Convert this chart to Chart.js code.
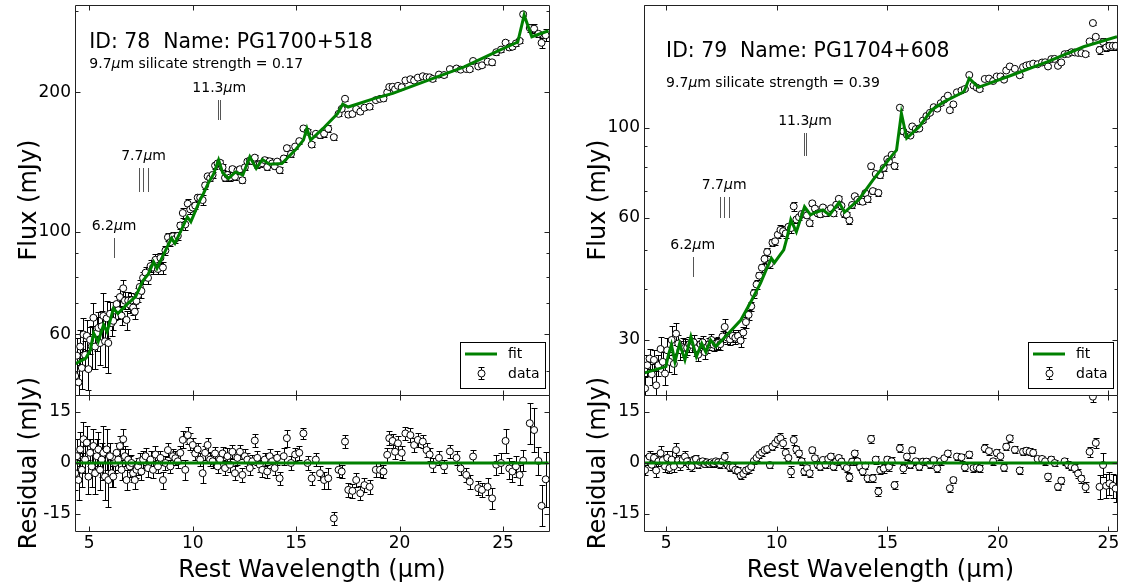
<!DOCTYPE html>
<html>
<head>
<meta charset="utf-8">
<title>PG1700+518 / PG1704+608</title>
<script src="https://cdn.jsdelivr.net/npm/chart.js@4.4.1/dist/chart.umd.min.js"></script>
<style>
    html, body { margin: 0; padding: 0; background: #fff; }
    #lienzo { position: relative; width: 1126px; height: 583px; }
    #lienzo canvas { position: absolute; left: 0; top: 0; }
</style>
</head>
<body>
<div id="lienzo">
    <canvas id="flux78" width="1126" height="583"></canvas>
    <canvas id="res78" width="1126" height="583"></canvas>
    <canvas id="flux79" width="1126" height="583"></canvas>
    <canvas id="res79" width="1126" height="583"></canvas>
</div>
<script>
// Ticks de los ejes.
const X_TICKS = [5, 10, 15, 20, 25];
const RES_TICKS = [-15, 0, 15];
const Y_LABELS_78 = [60, 100, 200];
const Y_MINOR_78 = [50, 70, 80, 90, 300];
const Y_LABELS_79 = [30, 60, 100];
const Y_MINOR_79 = [40, 50, 70, 80, 90, 200];

// Límites de los ejes.
const X_RANGE_78 = [4.31, 27.22];
const Y_RANGE_78 = [44.4, 309];
const X_RANGE_79 = [4.0, 25.39];
const Y_RANGE_79 = [21.96, 200.5];
const RES_RANGE = [-20, 20];

// ID 78: longitud de onda (um), flujo (mJy), error y residuo.
const lam78 = [4.32,4.40,4.48,4.56,4.64,4.72,4.80,4.88,4.96,5.04,5.12,5.20,5.28,5.36,5.44,5.52,5.60,5.68,5.76,5.84,5.92,6.00,6.08,6.16,6.24,6.32,6.40,6.48,6.56,6.64,6.72,6.80,6.88,6.96,7.04,7.12,7.20,7.28,7.36,7.44,7.52,7.60,
    7.72,7.84,7.96,8.08,8.20,8.32,8.44,8.56,8.68,8.80,8.92,9.04,9.16,9.28,9.40,9.52,9.64,9.76,9.88,10.00,10.12,10.24,10.36,10.48,10.60,10.72,10.84,10.96,11.08,11.20,11.32,11.44,11.56,11.68,11.80,11.92,12.04,12.16,12.28,12.40,12.52,12.64,12.76,12.88,13.00,13.12,13.24,13.36,13.48,13.60,13.72,13.84,13.96,14.08,
    14.20,14.40,14.55,14.75,14.95,15.15,15.35,15.55,15.75,15.95,16.15,16.35,16.55,16.82,17.05,17.20,17.36,17.52,17.72,17.90,18.10,18.30,18.55,18.85,19.05,19.22,19.40,19.50,19.66,19.78,19.92,20.10,20.28,20.52,20.70,20.88,21.12,21.30,21.45,21.60,21.90,22.15,22.43,22.75,22.95,23.22,23.39,23.55,23.80,23.98,24.25,24.47,24.67,24.90,25.12,25.30,25.45,25.62,25.80,25.97,26.29,26.50,26.71,26.86,27.06];
const flux78 = [48.8,54.0,47.3,56.5,50.8,60.0,54.2,59.6,50.5,58.4,56.5,65.2,56.5,60.4,62.0,57.5,62.5,65.8,58.0,65.0,57.5,66.5,63.5,64.2,67.6,69.8,67.7,72.3,65.9,75.5,71.0,64.5,71.0,69.6,71.1,68.6,67.2,70.9,73.0,76.0,74.5,79.5,
    81.6,79.5,84.3,83.7,87.0,83.1,87.8,83.7,91.1,97.3,95.0,97.8,96.5,98.0,103.2,109.8,103.7,115.0,111.8,112.8,113.9,118.5,118.5,117.1,126.0,131.8,130.5,132.7,139.0,140.5,141.0,137.8,130.8,132.7,131.0,136.6,131.5,135.6,136.5,129.2,137.8,141.8,142.5,142.1,144.6,139.4,140.0,140.6,142.8,138.0,142.0,140.5,138.6,141.8,
    135.9,144.0,151.6,147.3,152.8,157.0,167.2,164.5,154.3,162.8,161.8,162.9,166.9,160.1,179.8,184.3,193.8,179.1,179.7,184.2,181.8,185.4,186.3,192.5,193.7,194.1,200.0,205.5,205.7,203.2,206.7,205.3,212.3,213.6,212.2,215.3,216.8,215.8,215.6,213.9,218.6,218.1,224.6,225.3,224.0,224.7,224.4,233.9,227.6,228.9,233.1,232.3,244.3,247.5,256.2,250.2,251.1,255.2,258.5,295.0,275.6,274.7,267.7,256.0,265.8];
const err78 = [5,5,6,5,5,5,4,5,5,4,6,5,6,5,5,6,5,8,7,6,8,4,4,3,3,3,3,3,3,3,3,3,3,3,2.5,2.5,2.5,2.5,2.5,2.5,2.5,2.5,
    2.5,2.5,2.5,2.5,2.5,2,2,2.5,2,2,2,2,2,2,2,2.5,3,2.5,2.5,2,2,2,2,3,2,2,2,2,2,2,2,2,2,2.5,2,2,2,2,2,2,2,2,2,2,2,2,2,2,2,2,2,2,2,2,
    2,2.5,2.5,2,2,2,1.5,2,2,2,2,2.5,3,2,2,2,2,2,2,2,2,2,2,2,2,2,2,2,2,2,2,2,2,2,2,2,2,2,2,2,2,2,2,2,2,2,2,2,2,2,2.5,3,3,3,3.5,3,3,3,3,3,6,6.5,4,6,8];
const res78 = [-3,2,-5,4,-2,7,1,6,-4,3,-1,5,-3,2,4,-2,1,3,-4,4,-5,2,-3,-4,0,3,1,5,-2,7,2,-5,1,-1,0,-3,-5,-2,-1,0.5,-2.5,1,
    2,-1.5,1,-2,2.5,-1,1.5,-5,0,3.8,-1,2,1.4,0.5,3,6.8,-2,8.2,6.3,5.3,2.8,4,1,-3,3,5.3,1,0.5,2.8,-1,1,2.8,-1.5,2,-0.5,3.3,-3,1.5,3.3,-3.5,2,1,-1.5,0.5,6.6,1.5,-0.5,-2,1,-2.5,2,0.5,-1.5,1.5,
    -4.5,2,7.3,0,2.5,3,8.7,0,-4.5,1,-3,-5,-4.5,-16.3,-2,-2.5,6.3,-7.9,-8.2,-5,-8.9,-6.5,-7,-2,-2,-2.5,2.4,7.3,6.5,3.3,5.8,3,8.7,8.2,5.3,6.8,6.3,3.8,2.5,-0.6,1.5,-1,3.4,1.5,-1.6,-3.5,-5.5,1.9,-7.4,-7.9,-7,-10.4,-0.5,0,6.5,-1.6,-2.5,-1,-3.5,0.7,11.7,9.7,0.6,-12.6,-4.8];

// ID 78: curva del ajuste.
const fitLam78 = [4.31,4.83,5.05,5.21,5.43,5.69,5.86,6.17,6.38,6.8,7.24,7.6,7.85,8.11,8.27,8.6,8.97,9.14,9.45,9.74,9.91,10.35,10.52,10.78,11.0,11.25,11.45,11.73,12.07,12.42,12.76,13.07,13.37,13.71,14.31,15.0,15.35,15.52,15.7,16.3,17.0,17.25,17.51,18.8,19.67,21.39,23.12,24.84,25.71,26.02,26.39,27.2];
const fitFlux78 = [51.8,53.3,55.5,60.4,57.9,62.9,60.8,68.3,66.6,69.5,72.4,78.5,81.0,86.1,83.4,89.5,96.8,94.4,101,107.7,105.1,117.1,121.0,128.2,133,142.9,134,130.4,134.7,132.6,145.2,137.1,143.3,140.0,140.5,151,157.8,167.2,157.8,167.2,180,188.8,186.0,194.2,199.1,212.7,227.1,246.9,257,293.8,263.9,271.8];

// ID 79: longitud de onda (um), flujo (mJy), error y residuo.
const lam79 = [4.05,4.15,4.25,4.35,4.45,4.55,4.65,4.75,4.85,4.95,5.05,5.15,5.25,5.35,5.45,5.55,5.65,5.75,5.85,5.95,6.05,6.15,6.25,6.35,6.45,6.55,6.65,6.75,6.85,6.95,7.05,7.15,7.25,7.35,7.45,7.55,
    7.65,7.77,7.89,8.01,8.13,8.25,8.37,8.49,8.61,8.73,8.85,8.97,9.09,9.21,9.33,9.45,9.57,9.69,9.81,9.93,10.05,10.17,10.29,10.41,10.53,10.65,10.77,10.89,11.01,11.13,11.25,11.37,11.49,11.61,11.73,11.85,11.97,12.09,12.21,12.33,12.45,12.57,12.69,12.81,12.93,13.05,13.17,13.29,13.41,13.53,13.65,13.77,13.89,14.01,14.11,
    14.27,14.35,14.48,14.60,14.68,14.84,15.00,15.08,15.20,15.33,15.57,15.73,15.89,16.05,16.13,16.29,16.45,16.61,16.77,16.93,17.10,17.26,17.42,17.58,17.74,17.83,17.99,18.15,18.36,18.51,18.71,18.90,19.05,19.18,19.41,19.60,19.79,19.95,20.12,20.28,20.38,20.54,20.77,20.99,21.14,21.29,21.44,21.60,21.80,22.00,22.14,22.27,22.42,22.57,22.72,22.87,23.02,23.18,23.33,23.48,23.63,23.78,23.97,24.15,24.30,24.43,24.60,24.76,24.90,25.05,25.20,25.33];
const flux79 = [22.8,26.0,27.0,24.7,26.8,23.2,26.0,28.5,26.5,24.8,28.3,26.5,30.0,26.2,31.1,29.4,28.3,28.8,28.7,28.7,29.3,29.2,29.6,28.6,27.6,29.3,29.6,28.0,28.8,29.3,30.0,29.2,29.4,29.5,29.3,30.6,
    32.3,30.4,30.1,30.7,30.4,30.7,29.9,31.3,33.2,34.6,36.3,39.1,41.1,43.2,45.2,47.5,49.4,46.2,52.1,52.5,54.5,56.0,55.6,54.9,57.0,56.6,64.0,59.4,60.2,61.3,61.3,60.8,58.2,65.1,63.2,61.5,61.2,63.6,61.6,62.5,63.3,61.5,64.6,66.8,64.2,61.4,61.0,59.1,64.5,67.8,66.4,65.9,65.7,69.0,66.7,
    80.4,69.8,76.9,69.1,76.4,79.6,83.6,82.5,85.7,80.5,112.0,97.9,96.1,95.6,100.7,99.2,99.5,104.1,106.8,108.8,112.3,111.4,114.9,117.3,119.9,110.4,114.1,122.2,123.5,124.5,134.8,127.0,125.5,124.4,131.8,132.1,130.3,133.7,133.7,131.3,138.3,141.5,139.6,134.6,141.0,142.3,142.9,143.8,143.3,144.7,144.9,141.5,147.5,147.7,142.0,144.8,151.7,152.0,153.4,153.2,152.8,152.6,151.7,163.1,181.0,167.4,155.3,162.5,157.6,159.0,159.1,159.0];
const err79 = [1.5,1.5,1.5,1.5,1.5,2,1.5,2,1.5,1.5,2,1.5,2.5,1.5,2,1.5,1.5,1.5,1.5,1.2,1.2,1.2,1.2,1.2,1,1,1,1,1,1,1,1,1,1,1,1,
    1.5,1,1,1,1,1,1,1,1,1,1,1,1,1,1,1,1,1,1,1,1,1.5,1.5,1.5,1,1.5,1.5,1,1,1,1,1,1,1,1,1,1,1,1,1,1,1,1,1,1,1,1,1.2,1,1,1,1,1,1,1,
    1.2,1.2,1.2,1.2,1.2,1.2,1.2,1.2,1.2,1.2,1.2,1.2,1,1,1,1,1,1,1,1,1,1,1,1,1,1,1,1,1,1,1,1,1,1,1.2,1,1,1,1,1,1,1,1,1,1,1,1,1,1,1,1,1.2,1,1,1,1,1,1,1,1.2,1.2,1.2,1.5,1.5,1.5,1.5,3.5,3.5,3.5,3.5,3.5,4];
const res79 = [-2.1,1.0,1.9,-0.5,1.5,-2.2,0.5,2.9,0.8,-1.0,1.5,-1.5,1.0,-1.0,3.8,0.8,-0.5,1.0,1.9,0.5,-0.5,-1.1,0.8,1.2,-0.5,0.3,0.5,-0.3,0.2,-0.2,0.2,-0.1,0.5,0.2,-0.4,0.5,
    1.8,-0.5,-1.3,-1.2,-2.0,-2.3,-3.7,-3.2,-2.2,-1.8,-1.1,0.6,1.5,2.4,3.1,3.8,4.1,-0.6,4.8,5.8,6.8,7.3,5.8,3.0,1.5,-2.5,6.8,4.0,2.8,0.5,-2.5,-1.5,-3.0,3.8,1.4,-0.5,-1.1,0.9,-0.5,1.2,1.9,-1.1,0.4,1.5,0.4,-0.8,-1.5,-4.2,0.4,2.8,0.5,-1.1,-2.5,-0.8,-4.5,
    7.1,-4.5,1.0,-8.4,-2.1,-1.6,1.0,-1.1,0.5,-6.5,4.3,-1.6,1.9,-0.5,3.8,0.5,-1.1,0.4,0.4,-0.4,0.9,-1.6,0.5,1.4,2.8,-7.4,-5.0,1.9,1.7,-1.3,2.5,-1.5,-1.3,-1.6,4.3,3.5,0.5,3.0,2.0,-1.4,4.8,7.3,3.9,-2.2,3.3,3.6,3.3,3.0,1.2,1.2,0.5,-4.0,1.0,0,-7.0,-5.2,0.5,-0.5,-1.1,-1.5,-3.1,-4.6,-7.1,3.3,19.5,5.9,-7.0,-0.6,-6.7,-6.0,-6.7,-7.5];

// ID 79: curva del ajuste.
const fitLam79 = [4.03,4.99,5.10,5.24,5.40,5.61,5.85,6.12,6.37,6.61,6.80,7.01,7.25,7.74,8.38,8.87,9.27,9.59,9.76,9.90,10.32,10.48,10.64,10.89,11.26,11.53,11.77,12.09,12.39,12.82,13.07,13.71,14.35,15.24,15.42,15.64,15.88,16.45,17.01,17.58,18.47,18.71,19.12,20.65,22.26,23.88,25.39];
const fitFlux79 = [24.9,25.8,27.5,29.2,26.5,29.4,26.8,30.6,27.3,29.4,28.0,30.0,28.9,30.8,33.6,37.6,41.4,45.5,47.7,46.5,50.0,53.9,59.3,55.4,63.9,61.0,61.9,62.7,61.0,65.4,61.9,66.5,74.3,85.7,88.0,108.5,94.2,100.6,110.6,115.9,122.6,132.3,125.7,134.8,145.4,158.2,167.5];

// Marcas de las bandas PAH: longitudes de onda, extremos (mJy) y etiqueta.
const featWaves = [[6.2], [7.42, 7.6, 7.85], [11.23, 11.33]];
const featLabels = ['6.2μm', '7.7μm', '11.3μm'];
const featLo78 = [87.8, 121.8, 174.3];
const featHi78 = [96.9, 137.3, 192.5];
const featLo79 = [42.9, 59.9, 85.2];
const featHi79 = [48.1, 67.6, 97.0];

// Estilos generales.
const FONT = '"DejaVu Sans"';
const FIT_COLOR = '#008000';
const FRAME_COLOR = '#222';

Chart.defaults.font.family = FONT;
Chart.defaults.color = '#000';

const toPoints = (xs, ys) => xs.map((x, i) => ({ x: x, y: ys[i] }));

/*
*   Dibuja un texto donde la letra μ va en cursiva (como el mathtext de matplotlib).
*/
const drawRich = (ctx, text, x, y, size, align) => {
    const segs = [];
    text.split('μ').forEach((part, i) => {
        if (i > 0) segs.push({ t: 'μ', f: `italic ${size}px ${FONT}` });
        if (part) segs.push({ t: part, f: `${size}px ${FONT}` });
    });
    let width = 0;
    segs.forEach((s) => { ctx.font = s.f; s.w = ctx.measureText(s.t).width; width += s.w; });
    let cx = align === 'center' ? x - width / 2 : x;
    ctx.textAlign = 'left';
    segs.forEach((s) => { ctx.font = s.f; ctx.fillText(s.t, cx, y); cx += s.w; });
};

/*
*   Plugin para las barras de error (debajo de los marcadores).
*/
const errorBars = {
    id: 'errorBars',
    beforeDatasetsDraw(chart) {
        const { ctx, chartArea: a, scales: { x, y } } = chart;
        ctx.save();
        ctx.beginPath();
        ctx.rect(a.left, a.top, a.width, a.height);
        ctx.clip();
        ctx.strokeStyle = '#000';
        ctx.lineWidth = 1;
        chart.data.datasets.forEach((ds) => {
            if (!ds.errors) return;
            ctx.beginPath();
            ds.data.forEach((p, i) => {
                const px = Math.round(x.getPixelForValue(p.x)) + 0.5;
                const top = Math.round(y.getPixelForValue(p.y + ds.errors[i])) + 0.5;
                const bottom = Math.round(y.getPixelForValue(p.y - ds.errors[i])) + 0.5;
                ctx.moveTo(px, top); ctx.lineTo(px, bottom);
                ctx.moveTo(px - 3, top); ctx.lineTo(px + 3, top);
                ctx.moveTo(px - 3, bottom); ctx.lineTo(px + 3, bottom);
            });
            ctx.stroke();
        });
        ctx.restore();
    }
};

/*
*   Plugin para el marco y los ticks hacia adentro en los cuatro lados.
*/
const frameTicks = {
    id: 'frameTicks',
    afterDatasetsDraw(chart, args, opts) {
        const { ctx, chartArea: a, scales: { x, y } } = chart;
        const L = Math.round(a.left) + 0.5, R = Math.round(a.right) + 0.5;
        const T = Math.round(a.top) + 0.5, B = Math.round(a.bottom) + 0.5;
        ctx.save();
        ctx.strokeStyle = FRAME_COLOR;
        ctx.lineWidth = 1;
        ctx.beginPath();
        opts.xMajor.forEach((v) => {
            const px = Math.round(x.getPixelForValue(v)) + 0.5;
            ctx.moveTo(px, B); ctx.lineTo(px, B - opts.major);
            ctx.moveTo(px, T); ctx.lineTo(px, T + opts.major);
        });
        const yTick = (v, len) => {
            const py = Math.round(y.getPixelForValue(v)) + 0.5;
            ctx.moveTo(L, py); ctx.lineTo(L + len, py);
            ctx.moveTo(R, py); ctx.lineTo(R - len, py);
        };
        opts.yMajor.forEach((v) => yTick(v, opts.major));
        (opts.yMinor || []).forEach((v) => yTick(v, opts.minor));
        ctx.rect(L, T, R - L, B - T);
        ctx.stroke();
        ctx.restore();
    }
};

/*
*   Plugin para los textos, las marcas PAH y la leyenda del panel de flujo.
*/
const notes = {
    id: 'notes',
    afterDraw(chart, args, opts) {
        if (!opts.texts) return;
        const { ctx, chartArea: a, scales: { x, y } } = chart;
        ctx.save();
        ctx.fillStyle = '#000';
        ctx.textBaseline = 'alphabetic';
        opts.texts.forEach((t) => drawRich(ctx, t.text, x.getPixelForValue(t.x), y.getPixelForValue(t.y), t.size, 'left'));
        // Marcas de las bandas.
        ctx.strokeStyle = '#555';
        ctx.lineWidth = 1;
        featWaves.forEach((waves, i) => {
            const top = Math.round(y.getPixelForValue(opts.featHi[i]));
            const bottom = Math.round(y.getPixelForValue(opts.featLo[i]));
            ctx.beginPath();
            waves.forEach((w) => {
                const px = Math.round(x.getPixelForValue(w)) + 0.5;
                ctx.moveTo(px, top); ctx.lineTo(px, bottom);
            });
            ctx.stroke();
            const mid = waves.reduce((s, w) => s + w, 0) / waves.length;
            drawRich(ctx, featLabels[i], x.getPixelForValue(mid), top - 8, 14, 'center');
        });
        // Leyenda en la esquina inferior derecha.
        const w = 85, h = 46;
        const x0 = Math.round(a.right) - 4 - w, y0 = Math.round(a.bottom) - 7 - h;
        ctx.fillStyle = '#fff';
        ctx.fillRect(x0, y0, w, h);
        ctx.strokeStyle = '#000';
        ctx.strokeRect(x0 + 0.5, y0 + 0.5, w, h);
        ctx.strokeStyle = FIT_COLOR;
        ctx.lineWidth = 3;
        ctx.beginPath();
        ctx.moveTo(x0 + 5, y0 + 12); ctx.lineTo(x0 + 37, y0 + 12);
        ctx.stroke();
        ctx.strokeStyle = '#000';
        ctx.lineWidth = 1;
        ctx.beginPath();
        ctx.moveTo(x0 + 21.5, y0 + 25); ctx.lineTo(x0 + 21.5, y0 + 38);
        ctx.moveTo(x0 + 18.5, y0 + 25.5); ctx.lineTo(x0 + 24.5, y0 + 25.5);
        ctx.moveTo(x0 + 18.5, y0 + 37.5); ctx.lineTo(x0 + 24.5, y0 + 37.5);
        ctx.stroke();
        ctx.fillStyle = '#fff';
        ctx.beginPath();
        ctx.arc(x0 + 21.5, y0 + 31.5, 3.5, 0, Math.PI * 2);
        ctx.fill();
        ctx.stroke();
        ctx.fillStyle = '#000';
        ctx.font = `14px ${FONT}`;
        ctx.textAlign = 'left';
        ctx.textBaseline = 'middle';
        ctx.fillText(chart.data.datasets[0].label, x0 + 48, y0 + 12);
        ctx.fillText(chart.data.datasets[1].label, x0 + 48, y0 + 32);
        ctx.restore();
    }
};

// Conjuntos de datos comunes: ajuste arriba, puntos con error debajo.
const fitDataset = (points) => ({
    label: 'fit',
    data: points,
    showLine: true,
    borderColor: FIT_COLOR,
    borderWidth: 3,
    pointRadius: 0,
    clip: 0
});
const dataDataset = (points, errors) => ({
    label: 'data',
    data: points,
    errors: errors,
    pointRadius: 3.5,
    pointBorderWidth: 1,
    pointBackgroundColor: '#fff',
    pointBorderColor: '#000',
    clip: 0
});

const yAxisFit = (scale) => { scale.width = 75; scale.paddingTop = 0; scale.paddingBottom = 0; };

/*
*   Panel superior: flujo en escala logarítmica.
*/
const fluxChart = (id, padLeft, padRight, xRange, yRange, yLabels, yMinor, lam, flux, err, fitLam, fitFlux, note) => {
    return new Chart(document.getElementById(id), {
        type: 'scatter',
        data: {
            datasets: [fitDataset(toPoints(fitLam, fitFlux)), dataDataset(toPoints(lam, flux), err)]
        },
        options: {
            responsive: false,
            animation: false,
            events: [],
            layout: { padding: { left: padLeft, right: padRight, top: 5, bottom: 188 } },
            plugins: {
                legend: { display: false },
                tooltip: { enabled: false },
                frameTicks: { xMajor: X_TICKS, yMajor: yLabels, yMinor: yMinor, major: 5, minor: 3 },
                notes: note
            },
            scales: {
                x: { type: 'linear', min: xRange[0], max: xRange[1], display: false },
                y: {
                    type: 'logarithmic',
                    min: yRange[0],
                    max: yRange[1],
                    grid: { display: false, drawTicks: false },
                    border: { display: false },
                    ticks: { font: { size: 17 }, padding: 4, autoSkip: false, callback: (v) => String(v) },
                    afterBuildTicks: (scale) => { scale.ticks = yLabels.map((v) => ({ value: v })); },
                    afterFit: yAxisFit,
                    title: { display: true, text: 'Flux (mJy)', font: { size: 24 }, padding: { top: 15, bottom: 0 } }
                }
            }
        },
        plugins: [errorBars, frameTicks, notes]
    });
};

/*
*   Panel inferior: residuos del ajuste.
*/
const resChart = (id, padLeft, padRight, xRange, lam, res, err, fitLam) => {
    return new Chart(document.getElementById(id), {
        type: 'scatter',
        data: {
            datasets: [fitDataset(fitLam.map((l) => ({ x: l, y: 0 }))), dataDataset(toPoints(lam, res), err)]
        },
        options: {
            responsive: false,
            animation: false,
            events: [],
            layout: { padding: { left: padLeft, right: padRight, top: 395, bottom: 0 } },
            plugins: {
                legend: { display: false },
                tooltip: { enabled: false },
                frameTicks: { xMajor: X_TICKS, yMajor: RES_TICKS, major: 5, minor: 3 },
                notes: {}
            },
            scales: {
                x: {
                    type: 'linear',
                    min: xRange[0],
                    max: xRange[1],
                    grid: { display: false, drawTicks: false },
                    border: { display: false },
                    ticks: { font: { size: 17 }, padding: 2, maxRotation: 0, autoSkip: false },
                    afterBuildTicks: (scale) => { scale.ticks = X_TICKS.map((v) => ({ value: v })); },
                    afterFit: (scale) => { scale.height = 52; scale.paddingLeft = 0; scale.paddingRight = 0; },
                    title: { display: true, text: 'Rest Wavelength (μm)', font: { size: 24, lineHeight: 1.0 }, padding: { top: 0, bottom: 0 } }
                },
                y: {
                    type: 'linear',
                    min: RES_RANGE[0],
                    max: RES_RANGE[1],
                    grid: { display: false, drawTicks: false },
                    border: { display: false },
                    ticks: { font: { size: 17 }, padding: 4, autoSkip: false },
                    afterBuildTicks: (scale) => { scale.ticks = RES_TICKS.map((v) => ({ value: v })); },
                    afterFit: yAxisFit,
                    title: { display: true, text: 'Residual (mJy)', font: { size: 24 }, padding: { top: 15, bottom: 0 } }
                }
            }
        },
        plugins: [errorBars, frameTicks]
    });
};

// Panel izquierdo: ID 78.
fluxChart('flux78', 0, 577, X_RANGE_78, Y_RANGE_78, Y_LABELS_78, Y_MINOR_78, lam78, flux78, err78, fitLam78, fitFlux78, {
    texts: [
        { text: 'ID: 78  Name: PG1700+518', x: 5, y: 248.9, size: 20.4 },
        { text: '9.7μm silicate strength = 0.17', x: 5, y: 225.4, size: 14 }
    ],
    featLo: featLo78,
    featHi: featHi78
});
resChart('res78', 0, 577, X_RANGE_78, lam78, res78, err78, fitLam78);

// Panel derecho: ID 79.
fluxChart('flux79', 569, 9, X_RANGE_79, Y_RANGE_79, Y_LABELS_79, Y_MINOR_79, lam79, flux79, err79, fitLam79, fitFlux79, {
    texts: [
        { text: 'ID: 79  Name: PG1704+608', x: 5, y: 149.6, size: 20.4 },
        { text: '9.7μm silicate strength = 0.39', x: 5, y: 125.8, size: 14 }
    ],
    featLo: featLo79,
    featHi: featHi79
});
resChart('res79', 569, 9, X_RANGE_79, lam79, res79, err79, fitLam79);
</script>
</body>
</html>
